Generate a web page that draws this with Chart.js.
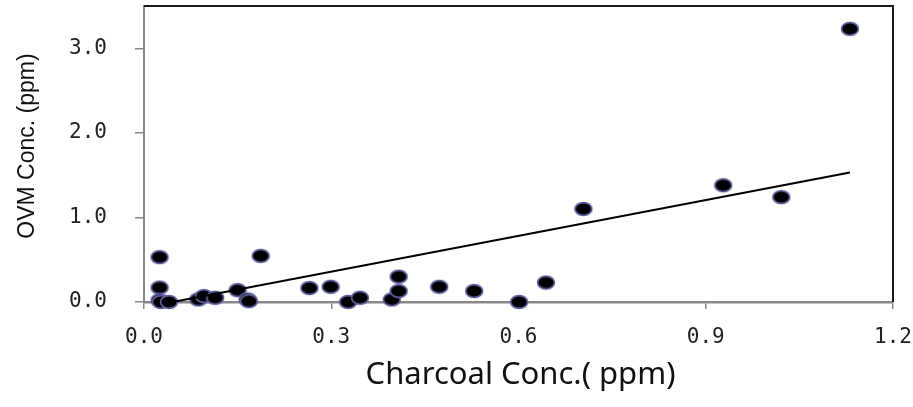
<!DOCTYPE html>
<html>
<head>
<meta charset="utf-8">
<script src="https://cdn.jsdelivr.net/npm/chart.js@4.4.1/dist/chart.umd.min.js"></script>
<style>
  html, body { margin: 0; padding: 0; background: #fff; }
  #wrap { width: 913px; height: 407px; }
</style>
</head>
<body>
<div id="wrap"><canvas id="chart"></canvas></div>
<script>
// charcoal tube vs. OVM badge, ppm
const charcoal = [0.025, 0.025, 0.025, 0.027, 0.04, 0.087, 0.096, 0.114, 0.15, 0.166, 0.168, 0.187,
  0.265, 0.299, 0.327, 0.346, 0.397, 0.408, 0.408, 0.473, 0.529, 0.601, 0.644, 0.704,
  0.928, 1.021, 1.131];
const ovm = [0.53, 0.17, 0.02, 0.0, 0.0, 0.03, 0.07, 0.05, 0.14, 0.03, 0.01, 0.545,
  0.165, 0.18, 0.0, 0.05, 0.03, 0.13, 0.30, 0.18, 0.13, 0.0, 0.23, 1.10,
  1.38, 1.24, 3.23];

// fitted line, end points
const trendX = [0.046, 1.131];
const trendY = [0.0, 1.53];

const xTicks = [0, 0.3, 0.6, 0.9, 1.2];
const yTicks = [0, 1, 2, 3];

// black ellipse with a blue-grey rim
const dot = document.createElement("canvas");
dot.width = 20;
dot.height = 16;
const dc = dot.getContext("2d");
dc.beginPath();
dc.ellipse(10, 8, 8.4, 6.4, 0, 0, Math.PI * 2);
dc.fillStyle = "#000";
dc.fill();
dc.lineWidth = 1.7;
dc.strokeStyle = "#5e5e9e";
dc.stroke();

const frame = {
  id: "frame",
  afterDraw(chart) {
    const { ctx, chartArea: a } = chart;
    ctx.save();
    ctx.strokeStyle = "#1a1a1a";
    ctx.lineWidth = 2;
    ctx.beginPath();
    ctx.moveTo(a.left, a.top);
    ctx.lineTo(a.right, a.top);
    ctx.lineTo(a.right, a.bottom);
    ctx.stroke();

    ctx.fillStyle = "#111";
    ctx.textAlign = "center";
    ctx.textBaseline = "middle";
    ctx.font = "31px 'Noto Sans'";
    ctx.fillText("Charcoal Conc.( ppm)", (a.left + a.right) / 2 + 2, 375);

    ctx.translate(28, 146);
    ctx.rotate(-Math.PI / 2);
    ctx.font = "23px 'Liberation Sans'";
    ctx.fillText("OVM Conc. (ppm)", 0, 0);
    ctx.restore();
  }
};

// keep the plot box fixed: no extra room for end labels
function noPad(s) {
  s.paddingTop = 0;
  s.paddingBottom = 0;
  s.paddingLeft = 0;
  s.paddingRight = 0;
}

const tickFont = { family: "'DejaVu Sans Mono'", size: 21 };

new Chart(document.getElementById("chart"), {
  data: {
    datasets: [
      {
        type: "scatter",
        data: charcoal.map((x, i) => ({ x: x, y: ovm[i] })),
        pointStyle: dot,
        clip: false,
        order: 2
      },
      {
        type: "line",
        data: trendX.map((x, i) => ({ x: x, y: trendY[i] })),
        borderColor: "#000",
        borderWidth: 2,
        pointRadius: 0,
        fill: false,
        order: 1
      }
    ]
  },
  options: {
    responsive: true,
    maintainAspectRatio: false,
    animation: false,
    layout: { autoPadding: false, padding: { top: 6, right: 20, left: 0, bottom: 0 } },
    plugins: {
      legend: { display: false },
      tooltip: { enabled: false }
    },
    scales: {
      x: {
        type: "linear",
        min: 0,
        max: 1.2,
        afterBuildTicks: s => { s.ticks = xTicks.map(v => ({ value: v })); },
        afterFit: s => { s.height = 105; noPad(s); },
        border: { color: "#888", width: 2.5 },
        grid: { drawOnChartArea: false, color: "#888", tickLength: 7, lineWidth: 1.5 },
        ticks: {
          font: tickFont,
          color: "#222",
          padding: 16,
          maxRotation: 0,
          callback: v => v.toFixed(1)
        }
      },
      y: {
        type: "linear",
        min: 0,
        max: 3.5,
        afterBuildTicks: s => { s.ticks = yTicks.map(v => ({ value: v })); },
        afterFit: s => { s.width = 144; noPad(s); },
        border: { color: "#888", width: 2 },
        grid: { drawOnChartArea: false, color: "#888", tickLength: 9, lineWidth: 1.5 },
        ticks: {
          font: tickFont,
          color: "#222",
          padding: 28,
          callback: v => v.toFixed(1)
        }
      }
    }
  },
  plugins: [frame]
});
</script>
</body>
</html>
